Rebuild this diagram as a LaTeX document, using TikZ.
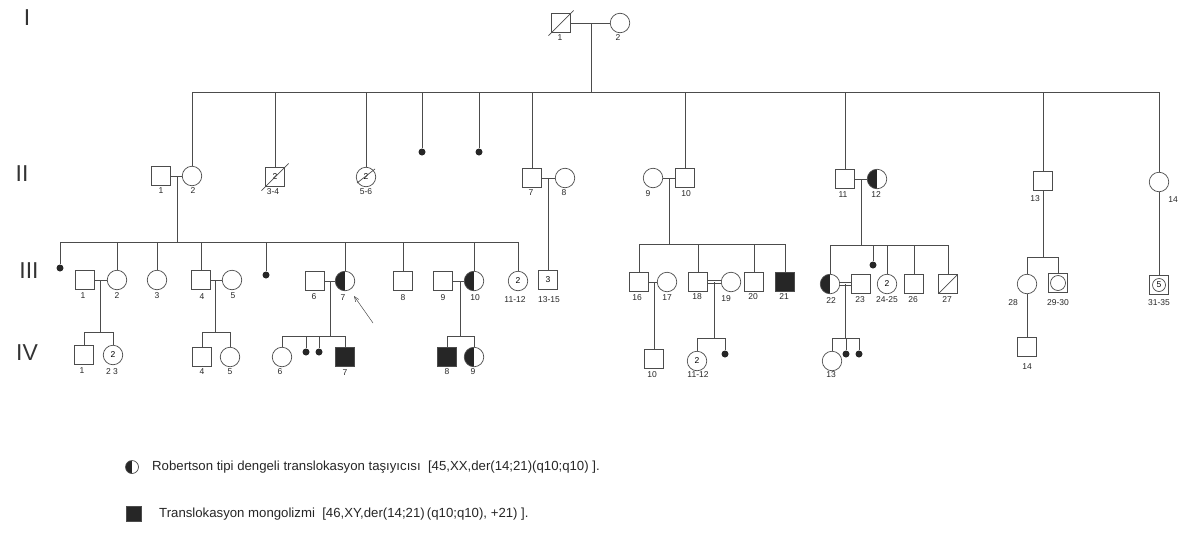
\documentclass[tikz,border=0pt]{standalone}
\usepackage{fontspec}
\setmainfont{Liberation Sans}
\usetikzlibrary{arrows.meta}
\newcommand\pedlbl{\fontsize{8.5}{9}\selectfont}
\newcommand\pedgen{\fontsize{23}{23}\selectfont}
\newcommand\pedleg{\fontsize{13.2}{15}\selectfont}
\begin{document}
\begin{tikzpicture}[x=1pt,y=-1pt,
  every node/.style={inner sep=0pt},
  ln/.style={draw=black!70, line width=0.7pt},
  dln/.style={draw=black!70, line width=0.6pt, double, double distance=2.4pt},
  sq/.style={draw=black!70, line width=0.7pt, rectangle, minimum size=18.5pt, font=\pedlbl},
  ci/.style={draw=black!70, line width=0.7pt, circle, minimum size=19.5pt, font=\pedlbl},
  hci/.style={ci, path picture={\fill[black!85] (path picture bounding box.south west) rectangle (path picture bounding box.north);}},
  fsq/.style={sq, fill=black!85},
  dt/.style={circle, fill=black!85, minimum size=7pt},
  lab/.style={font=\pedlbl, text=black!85},
  gen/.style={font=\pedgen, text=black!80},
  leg/.style={font=\pedleg, text=black!85, anchor=west}
]
\useasboundingbox (0,0) rectangle (1182,544);

% generation numerals
\node[gen] (gI) at (27,18) {I};
\node[gen] (gII) at (22,174) {II};
\node[gen] (gIII) at (29,271) {III};
\node[gen] (gIV) at (27,353) {IV};

% ---------- Generation I
\node[sq] (I1) at (561,23) {};
\node[ci] (I2) at (620,23) {};
\draw[ln] ([shift={(-3pt,-3pt)}]I1.south west) -- ([shift={(3pt,3pt)}]I1.north east);
\draw[ln] (I1) -- (I2);
\node[lab] (lI1) at (560,38) {1};
\node[lab] (lI2) at (618,38) {2};
\coordinate (mI) at (591,23);
\coordinate (sIIL) at (192,92);
\coordinate (sIIR) at (1159,92);
\draw[ln] (sIIL) -- (sIIR);
\draw[ln] (mI) -- (mI |- sIIL);

% ---------- Generation II
\node[sq] (II1) at (161,176) {};
\node[ci] (II2) at (192,176) {};
\node[sq] (II34) at (275,177) {2};
\node[ci] (II56) at (366,177) {2};
\node[dt] (dIIa) at (422,152) {};
\node[dt] (dIIb) at (479,152) {};
\node[sq] (II7) at (532,178) {};
\node[ci] (II8) at (565,178) {};
\node[ci] (II9) at (653,178) {};
\node[sq] (II10) at (685,178) {};
\node[sq] (II11) at (845,179) {};
\node[hci] (II12) at (877,179) {};
\node[sq] (II13) at (1043,181) {};
\node[ci] (II14) at (1159,182) {};

\draw[ln] ([shift={(-4pt,-4pt)}]II34.south west) -- ([shift={(4pt,4pt)}]II34.north east);
\draw[ln] ([shift={(-9pt,-6pt)}]II56.center) -- ([shift={(9pt,8pt)}]II56.center);

\node[lab] (lII1) at (161,191) {1};
\node[lab] (lII2) at (193,191) {2};
\node[lab] (lII34) at (273,192) {3-4};
\node[lab] (lII56) at (366,192) {5-6};
\node[lab] (lII7) at (531,193) {7};
\node[lab] (lII8) at (564,193) {8};
\node[lab] (lII9) at (648,194) {9};
\node[lab] (lII10) at (686,194) {10};
\node[lab] (lII11) at (843,195) {11};
\node[lab] (lII12) at (876,195) {12};
\node[lab] (lII13) at (1035,199) {13};
\node[lab] (lII14) at (1173,200) {14};

\foreach \n in {II2,II34,II56,II7,II10,II11,II13,II14}
  \draw[ln] (\n.north) -- (\n |- sIIL);
\draw[ln] (dIIa) -- (dIIa |- sIIL);
\draw[ln] (dIIb) -- (dIIb |- sIIL);

\draw[ln] (II1) -- (II2);
\draw[ln] (II7) -- (II8);
\draw[ln] (II9) -- (II10);
\draw[ln] (II11) -- (II12);

% ---------- Generation III
\node[dt] (dIIIa) at (60,268) {};
\node[sq] (III1) at (85,280) {};
\node[ci] (III2) at (117,280) {};
\node[ci] (III3) at (157,280) {};
\node[sq] (III4) at (201,280) {};
\node[ci] (III5) at (232,280) {};
\node[dt] (dIIIb) at (266,275) {};
\node[sq] (III6) at (315,281) {};
\node[hci] (III7) at (345,281) {};
\node[sq] (III8) at (403,281) {};
\node[sq] (III9) at (443,281) {};
\node[hci] (III10) at (474,281) {};
\node[ci] (III1112) at (518,281) {2};
\node[sq] (III1315) at (548,280) {3};

\node[sq] (III16) at (639,282) {};
\node[ci] (III17) at (667,282) {};
\node[sq] (III18) at (698,282) {};
\node[ci] (III19) at (731,282) {};
\node[sq] (III20) at (754,282) {};
\node[fsq] (III21) at (785,282) {};

\node[hci] (III22) at (830,284) {};
\node[sq] (III23) at (861,284) {};
\node[dt] (dIIIc) at (873,265) {};
\node[ci] (III2425) at (887,284) {2};
\node[sq] (III26) at (914,284) {};
\node[sq] (III27) at (948,284) {};
\draw[ln] (III27.south west) -- (III27.north east);

\node[ci] (III28) at (1027,284) {};
\node[sq] (III2930) at (1058,283) {};
\node[ci, minimum size=15pt] (III2930c) at (1058,283) {};
\node[sq] (III3135) at (1159,285) {};
\node[ci, minimum size=13pt] (III3135c) at (1159,285) {5};

\node[lab] (lIII1) at (83,296) {1};
\node[lab] (lIII2) at (117,296) {2};
\node[lab] (lIII3) at (157,296) {3};
\node[lab] (lIII4) at (202,297) {4};
\node[lab] (lIII5) at (233,296) {5};
\node[lab] (lIII6) at (314,297) {6};
\node[lab] (lIII7) at (343,298) {7};
\node[lab] (lIII8) at (403,298) {8};
\node[lab] (lIII9) at (443,298) {9};
\node[lab] (lIII10) at (475,298) {10};
\node[lab] (lIII1112) at (515,300) {11-12};
\node[lab] (lIII1315) at (549,300) {13-15};
\node[lab] (lIII16) at (637,298) {16};
\node[lab] (lIII17) at (667,298) {17};
\node[lab] (lIII18) at (697,297) {18};
\node[lab] (lIII19) at (726,299) {19};
\node[lab] (lIII20) at (753,297) {20};
\node[lab] (lIII21) at (784,297) {21};
\node[lab] (lIII22) at (831,301) {22};
\node[lab] (lIII23) at (860,300) {23};
\node[lab] (lIII2425) at (887,300) {24-25};
\node[lab] (lIII26) at (913,300) {26};
\node[lab] (lIII27) at (947,300) {27};
\node[lab] (lIII28) at (1013,303) {28};
\node[lab] (lIII2930) at (1058,303) {29-30};
\node[lab] (lIII3135) at (1159,303) {31-35};

% sibship lines gen III
\coordinate (mII12) at (177,176);
\coordinate (sIIIaL) at (60,242);
\coordinate (sIIIaR) at (518,242);
\draw[ln] (sIIIaL) -- (sIIIaR);
\draw[ln] (mII12) -- (mII12 |- sIIIaL);
\foreach \n in {III2,III3,III4,III7,III8,III10,III1112}
  \draw[ln] (\n.north) -- (\n |- sIIIaL);
\draw[ln] (dIIIa) -- (dIIIa |- sIIIaL);
\draw[ln] (dIIIb) -- (dIIIb |- sIIIaL);

\coordinate (mII78) at (548,178);
\draw[ln] (mII78) -- (III1315.north);

\coordinate (mII910) at (669,178);
\coordinate (sIIIbL) at (639,244);
\coordinate (sIIIbR) at (785,244);
\draw[ln] (sIIIbL) -- (sIIIbR);
\draw[ln] (mII910) -- (mII910 |- sIIIbL);
\foreach \n in {III16,III18,III20,III21}
  \draw[ln] (\n.north) -- (\n |- sIIIbL);

\coordinate (mII1112) at (861,179);
\coordinate (sIIIcL) at (830,245);
\coordinate (sIIIcR) at (948,245);
\draw[ln] (sIIIcL) -- (sIIIcR);
\draw[ln] (mII1112) -- (mII1112 |- sIIIcL);
\foreach \n in {III22,III2425,III26,III27}
  \draw[ln] (\n.north) -- (\n |- sIIIcL);
\draw[ln] (dIIIc) -- (dIIIc |- sIIIcL);

\coordinate (sIIIdL) at (1027,257);
\coordinate (sIIIdR) at (1058,257);
\draw[ln] (II13.south) -- (II13 |- sIIIdL);
\draw[ln] (sIIIdL) -- (sIIIdR);
\draw[ln] (III28.north) -- (III28 |- sIIIdL);
\draw[ln] (III2930.north) -- (III2930 |- sIIIdL);
\draw[ln] (II14.south) -- (III3135.north);

% couples gen III
\draw[ln] (III1) -- (III2);
\draw[ln] (III4) -- (III5);
\draw[ln] (III6) -- (III7);
\draw[ln] (III9) -- (III10);
\draw[ln] (III16) -- (III17);
\draw[dln] (III18) -- (III19);
\draw[dln] (III22) -- (III23);

% proband arrow
\coordinate (arrS) at (373,323);
\coordinate (arrE) at (354,296);
\draw[ln, line width=0.5pt, -{Straight Barb[length=5pt,width=4pt]}] (arrS) -- (arrE);

% ---------- Generation IV
\node[sq] (IV1) at (84,355) {};
\node[ci] (IV23) at (113,355) {2};
\node[sq] (IV4) at (202,357) {};
\node[ci] (IV5) at (230,357) {};
\node[ci] (IV6) at (282,357) {};
\node[dt] (dIVa) at (306,352) {};
\node[dt] (dIVb) at (319,352) {};
\node[fsq] (IV7) at (345,357) {};
\node[fsq] (IV8) at (447,357) {};
\node[hci] (IV9) at (474,357) {};
\node[sq] (IV10) at (654,359) {};
\node[ci] (IV1112) at (697,361) {2};
\node[dt] (dIVc) at (725,354) {};
\node[ci] (IV13) at (832,361) {};
\node[dt] (dIVd) at (846,354) {};
\node[dt] (dIVe) at (859,354) {};
\node[sq] (IV14) at (1027,347) {};

\node[lab] (lIV1) at (82,371) {1};
\node[lab] (lIV23) at (112,372) {2 3};
\node[lab] (lIV4) at (202,372) {4};
\node[lab] (lIV5) at (230,372) {5};
\node[lab] (lIV6) at (280,372) {6};
\node[lab] (lIV7) at (345,373) {7};
\node[lab] (lIV8) at (447,372) {8};
\node[lab] (lIV9) at (473,372) {9};
\node[lab] (lIV10) at (652,375) {10};
\node[lab] (lIV1112) at (698,375) {11-12};
\node[lab] (lIV13) at (831,375) {13};
\node[lab] (lIV14) at (1027,367) {14};

\coordinate (mIII12) at (100,280);
\coordinate (sIVaL) at (84,332);
\coordinate (sIVaR) at (113,332);
\draw[ln] (mIII12) -- (mIII12 |- sIVaL);
\draw[ln] (sIVaL) -- (sIVaR);
\draw[ln] (IV1.north) -- (IV1 |- sIVaL);
\draw[ln] (IV23.north) -- (IV23 |- sIVaL);

\coordinate (mIII45) at (215,280);
\coordinate (sIVbL) at (202,332);
\coordinate (sIVbR) at (230,332);
\draw[ln] (mIII45) -- (mIII45 |- sIVbL);
\draw[ln] (sIVbL) -- (sIVbR);
\draw[ln] (IV4.north) -- (IV4 |- sIVbL);
\draw[ln] (IV5.north) -- (IV5 |- sIVbL);

\coordinate (mIII67) at (330,281);
\coordinate (sIVcL) at (282,336);
\coordinate (sIVcR) at (345,336);
\draw[ln] (mIII67) -- (mIII67 |- sIVcL);
\draw[ln] (sIVcL) -- (sIVcR);
\draw[ln] (IV6.north) -- (IV6 |- sIVcL);
\draw[ln] (dIVa) -- (dIVa |- sIVcL);
\draw[ln] (dIVb) -- (dIVb |- sIVcL);
\draw[ln] (IV7.north) -- (IV7 |- sIVcL);

\coordinate (mIII910) at (460,281);
\coordinate (sIVdL) at (447,336);
\coordinate (sIVdR) at (474,336);
\draw[ln] (mIII910) -- (mIII910 |- sIVdL);
\draw[ln] (sIVdL) -- (sIVdR);
\draw[ln] (IV8.north) -- (IV8 |- sIVdL);
\draw[ln] (IV9.north) -- (IV9 |- sIVdL);

\coordinate (mIII1617) at (654,282);
\draw[ln] (mIII1617) -- (IV10.north);

\coordinate (mIII1819) at (714,282);
\coordinate (sIVfL) at (697,338);
\coordinate (sIVfR) at (725,338);
\draw[ln] (mIII1819) -- (mIII1819 |- sIVfL);
\draw[ln] (sIVfL) -- (sIVfR);
\draw[ln] (IV1112.north) -- (IV1112 |- sIVfL);
\draw[ln] (dIVc) -- (dIVc |- sIVfL);

\coordinate (mIII2223) at (845,284);
\coordinate (sIVgL) at (832,338);
\coordinate (sIVgR) at (859,338);
\draw[ln] (mIII2223) -- (mIII2223 |- sIVgL);
\draw[ln] (sIVgL) -- (sIVgR);
\draw[ln] (IV13.north) -- (IV13 |- sIVgL);
\draw[ln] (dIVd) -- (dIVd |- sIVgL);
\draw[ln] (dIVe) -- (dIVe |- sIVgL);

\draw[ln] (III28.south) -- (IV14.north);

% ---------- Legend
\node[hci, minimum size=13pt] (legA) at (132,467) {};
\node[leg] (legAt) at (152,467) {Robertson tipi dengeli translokasyon taşıyıcısı\ \ [45,XX,der(14;21)(q10;q10) ].};
\node[fsq, minimum size=15pt] (legB) at (134,514) {};
\node[leg] (legBt) at (159,514) {Translokasyon mongolizmi\ \ [46,XY,der(14;21)\,(q10;q10), +21) ].};
\end{tikzpicture}
\end{document}
